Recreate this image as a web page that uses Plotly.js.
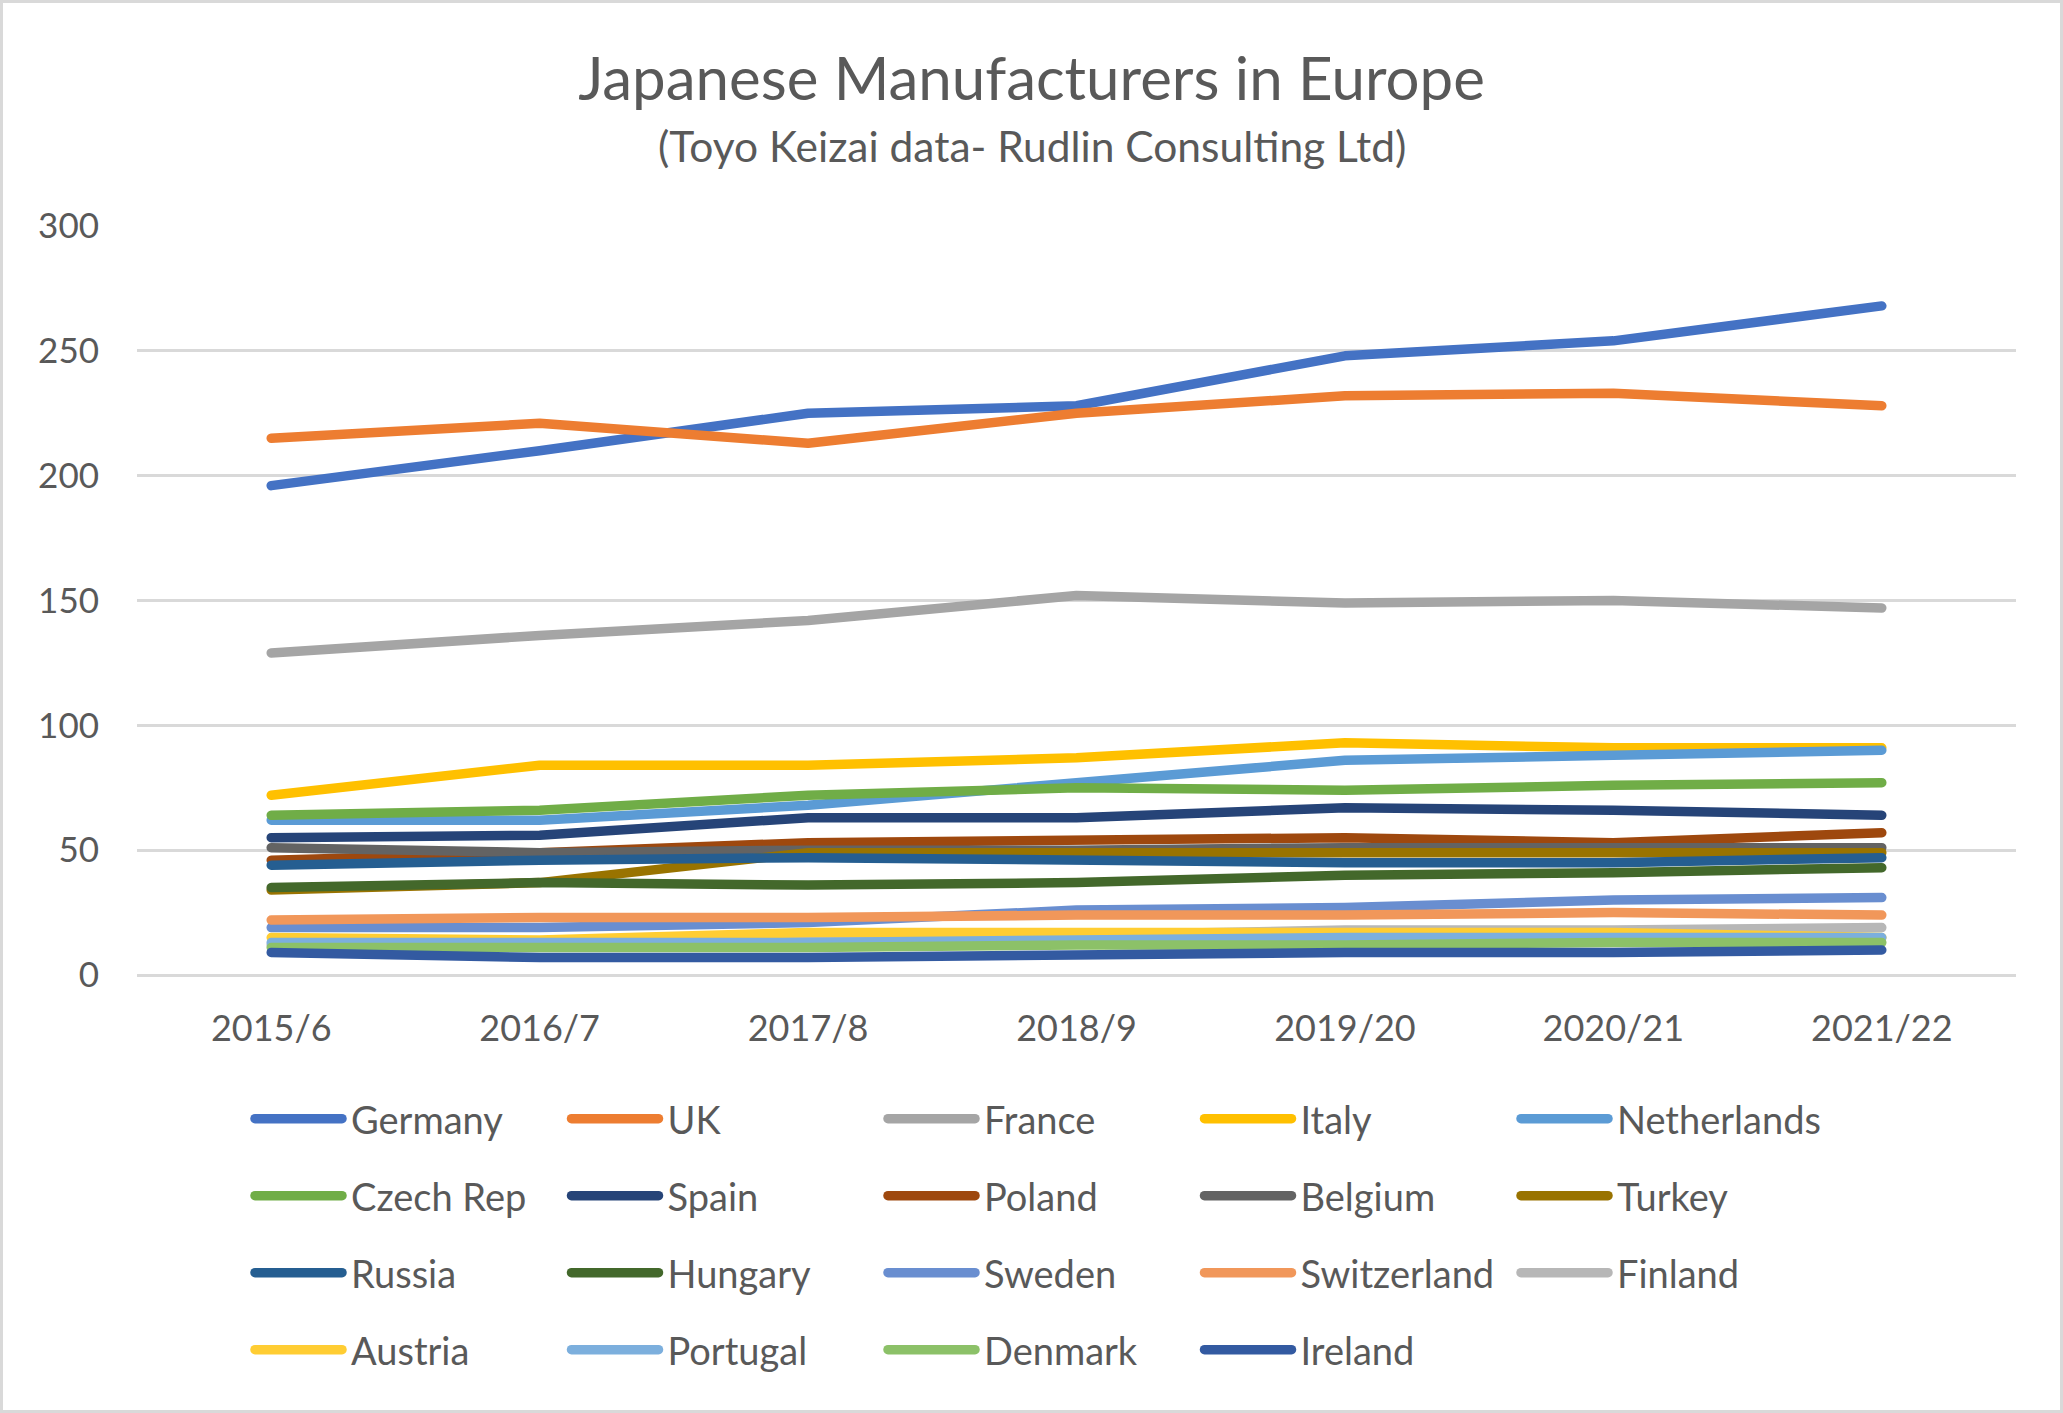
<!DOCTYPE html>
<html>
<head>
<meta charset="utf-8">
<script src="https://cdn.plot.ly/plotly-3.0.1.min.js"></script>
<style>
  html, body { margin: 0; padding: 0; background: #fff; }
  #wrap { position: relative; width: 2063px; height: 1413px; }
  #chart { width: 2063px; height: 1413px; }
  #frame { position: absolute; left: 0; top: 0; width: 2063px; height: 1413px; box-sizing: border-box; border: 3px solid #d9d9d9; pointer-events: none; }
  .scatterlayer .js-line { stroke-linecap: round; stroke-linejoin: round; }
  .legendlines path { stroke-linecap: round; d: path("M9,0h87"); }
</style>
</head>
<body>
<div id="wrap"><div id="chart"></div><div id="frame"></div></div>
<script>
const categories = ['2015/6', '2016/7', '2017/8', '2018/9', '2019/20', '2020/21', '2021/22'];

const seriesNames = ['Germany', 'UK', 'France', 'Italy', 'Netherlands',
  'Czech Rep', 'Spain', 'Poland', 'Belgium', 'Turkey',
  'Russia', 'Hungary', 'Sweden', 'Switzerland', 'Finland',
  'Austria', 'Portugal', 'Denmark', 'Ireland'];

const germany     = [196, 210, 225, 228, 248, 254, 268];
const uk          = [215, 221, 213, 225, 232, 233, 228];
const france      = [129, 136, 142, 152, 149, 150, 147];
const italy       = [72, 84, 84, 87, 93, 91, 91];
const netherlands = [62, 62, 68, 77, 86, 88, 90];
const czechRep    = [64, 66, 72, 75, 74, 76, 77];
const spain       = [55, 56, 63, 63, 67, 66, 64];
const poland      = [46, 49, 53, 54, 55, 53, 57];
const belgium     = [51, 49, 50, 50, 51, 51, 51];
const turkey      = [34, 37, 49, 49, 49, 49, 49];
const russia      = [44, 46, 47, 46, 45, 45, 47];
const hungary     = [35, 37, 36, 37, 40, 41, 43];
const sweden      = [19, 19, 21, 26, 27, 30, 31];
const switzerland = [22, 23, 23, 24, 24, 25, 24];
const finland     = [12, 13, 14, 16, 18, 18, 19];
const austria     = [15, 14, 17, 17, 17, 17, 15];
const portugal    = [13, 13, 13, 14, 15, 15, 15];
const denmark     = [11, 11, 11, 12, 12, 13, 13];
const ireland     = [9, 7, 7, 8, 9, 9, 10];

const seriesValues = [germany, uk, france, italy, netherlands,
  czechRep, spain, poland, belgium, turkey,
  russia, hungary, sweden, switzerland, finland,
  austria, portugal, denmark, ireland];

const seriesColors = ['#4472C4', '#ED7D31', '#A5A5A5', '#FFC000', '#5B9BD5',
  '#70AD47', '#264478', '#9E480E', '#636363', '#997300',
  '#255E91', '#43682B', '#698ED0', '#F1975A', '#B7B7B7',
  '#FFCD33', '#7CAFDD', '#8CC168', '#335AA1'];

const FONT = 'Lato, "Open Sans", sans-serif';
const TXT = '#595959';

const legendIds = ['legend', 'legend2', 'legend3', 'legend4'];

const traces = seriesNames.map((name, i) => ({
  type: 'scatter',
  mode: 'lines',
  name: name,
  x: categories,
  y: seriesValues[i],
  line: { color: seriesColors[i], width: 9.5, shape: 'linear' },
  legend: legendIds[Math.floor(i / 5)],
  hoverinfo: 'x+y+name'
}));

// plot area in pixels
const L = 137, R = 47, T = 226, B = 438;
const W = 2063, H = 1413;
const plotH = H - T - B;
const plotW = W - L - R;
const rowCenters = [1119, 1196, 1273, 1350];
const legendLeft = 246;

function legendObj(k) {
  return {
    orientation: 'h',
    x: (legendLeft - L) / plotW,
    xanchor: 'left',
    y: (H - B - rowCenters[k]) / plotH,
    yanchor: 'middle',
    itemwidth: 95,
    entrywidth: 206.5,
    entrywidthmode: 'pixels',
    font: { family: FONT, size: 38, color: TXT },
    bgcolor: 'rgba(0,0,0,0)',
    borderwidth: 0,
    itemclick: false,
    itemdoubleclick: false,
    traceorder: 'normal'
  };
}

const layout = {
  width: W,
  height: H,
  margin: { l: L, r: R, t: T, b: B, pad: 0 },
  paper_bgcolor: '#ffffff',
  plot_bgcolor: '#ffffff',
  font: { family: FONT, color: TXT },
  title: {
    text: 'Japanese Manufacturers in Europe',
    font: { family: FONT, size: 60, color: TXT },
    x: 0.5,
    xanchor: 'center',
    xref: 'container',
    yref: 'container',
    y: 1 - 79 / H,
    yanchor: 'middle'
  },
  annotations: [{
    text: '(Toyo Keizai data- Rudlin Consulting Ltd)',
    xref: 'paper', yref: 'paper',
    x: (W / 2 - L) / plotW, y: (H - B - 145) / plotH,
    xanchor: 'center', yanchor: 'middle',
    showarrow: false,
    font: { family: FONT, size: 42.5, color: TXT }
  }],
  xaxis: {
    type: 'category',
    range: [-0.5, categories.length - 0.5],
    showgrid: false,
    zeroline: false,
    showline: false,
    ticks: '',
    tickfont: { family: FONT, size: 36, color: TXT },
    ticklabelstandoff: 29,
    fixedrange: true
  },
  yaxis: {
    range: [0, 300],
    tickvals: [0, 50, 100, 150, 200, 250, 300],
    ticktext: ['0', '50', '100', '150', '200', '250', '300'],
    showgrid: true,
    gridcolor: '#D9D9D9',
    gridwidth: 2.5,
    zeroline: true,
    zerolinecolor: '#D9D9D9',
    zerolinewidth: 2.5,
    showline: false,
    ticks: '',
    tickfont: { family: FONT, size: 35, color: TXT },
    ticklabelstandoff: 37,
    fixedrange: true
  },
  legend: legendObj(0),
  legend2: legendObj(1),
  legend3: legendObj(2),
  legend4: legendObj(3),
  showlegend: true
};

Plotly.newPlot('chart', traces, layout, { displayModeBar: false, staticPlot: false, responsive: false });
</script>
</body>
</html>
